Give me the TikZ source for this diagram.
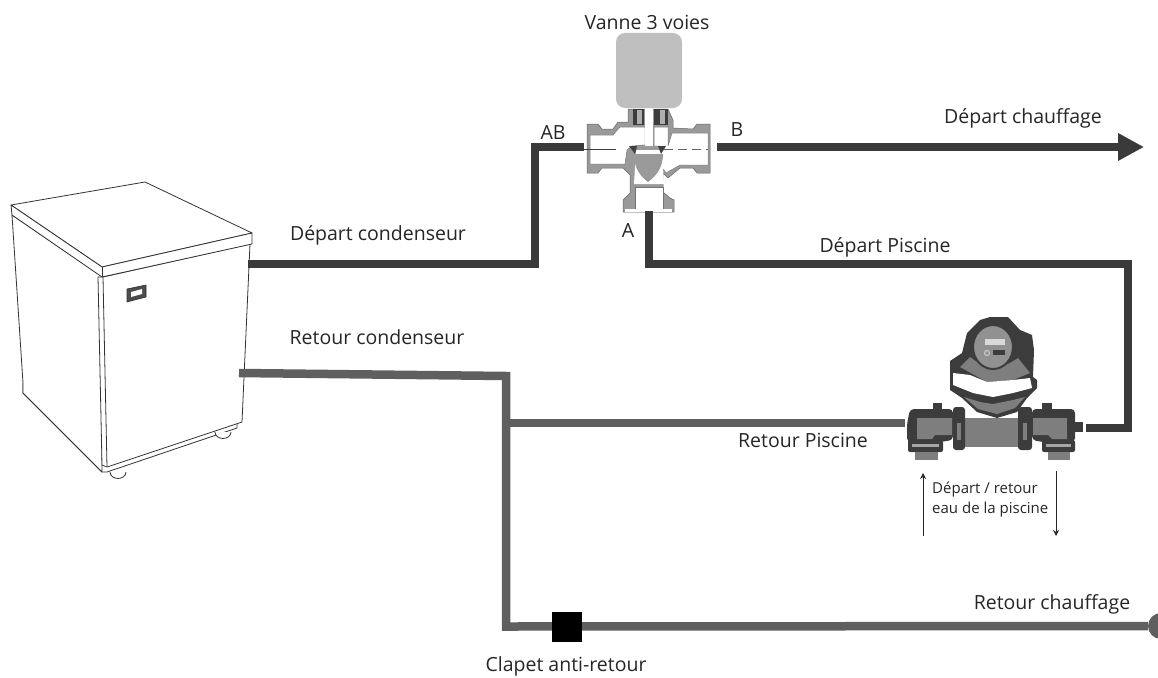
\documentclass[tikz,border=0pt]{standalone}
\usepackage{fontspec}
\setmainfont{Open Sans}
\usepackage{xcolor}
\usetikzlibrary{arrows.meta,positioning,calc}
\definecolor{PipeHot}{HTML}{3A3A3A}
\definecolor{PipeCold}{HTML}{5F5F5F}
\definecolor{Actuator}{HTML}{BFBFBF}
\definecolor{Metal}{HTML}{9A9A9A}
\definecolor{PumpDark}{HTML}{3C3C3C}
\definecolor{PumpMid}{HTML}{7E7E7E}
\begin{document}
\begin{tikzpicture}[
  x=1pt, y=-1pt,
  every node/.style={font=\fontsize{19.5}{23}\selectfont, text=black!85, inner sep=0pt},
  hot/.style={draw=PipeHot, line width=8.5pt, line join=miter},
  cold/.style={draw=PipeCold, line width=8.5pt, line join=miter},
  case/.style={draw=black!80, line width=0.8pt, fill=white, line join=round},
  bore/.style={draw=black!55, line width=0.5pt, fill=white, line join=round},
  thinarr/.style={-{Stealth[length=6pt,width=6pt]}, draw=black!85, line width=0.7pt},
]
\useasboundingbox (0,0) rectangle (1158,677);
%% heat pump cabinet
\draw[case] (23,393) -- (102,472) -- (107,472) -- (237,428) -- (237,420) -- (23,383) -- cycle;
\draw[case] (110,472) arc[start angle=180,end angle=360,x radius=8,y radius=-6.5];
\draw[case] (215,432) arc[start angle=180,end angle=360,x radius=8,y radius=-6.5];
\draw[case] (12,215) -- (23,383) -- (23,393) -- (102,472) -- (103,277) -- cycle;
\draw[case] (98,277) -- (103,277) -- (250,244) -- (242,422) -- (107,467) -- (102,465) -- cycle;
\draw[case] (103,277) -- (107,467);
\draw[case] (11,205) -- (145,182) -- (252,233) -- (102,267) -- cycle;
\draw[case] (11,205) -- (12,215) -- (102,277) -- (252,244) -- (252,233) -- (102,267) -- cycle;
\draw[case] (102,267) -- (102,277);
\draw[draw=black!80, fill=black!70, line width=0.6pt] (127,289) -- (146,285) -- (146,297) -- (127,302) -- cycle;
\draw[draw=none, fill=white] (131,292) -- (142,289) -- (142,294) -- (131,297) -- cycle;
%% 3-way valve
\draw[draw=black!60, fill=Metal, line width=0.5pt, line join=round]
  (587,124) -- (598,124) -- (602,129) -- (613,129) -- (618,122) -- (628,122) -- (628,109)
  -- (668,109) -- (673,120) -- (673,128) -- (693,129) -- (697,124) -- (710,124) -- (710,173)
  -- (697,173) -- (693,168) -- (680,168) -- (668,178) -- (663,173) -- (663,192) -- (670,198)
  -- (674,200) -- (674,212) -- (623,212) -- (623,200) -- (630,193) -- (630,175) -- (623,168)
  -- (602,168) -- (598,173) -- (587,173) -- cycle;
\draw[bore] (590,135) -- (613,135) -- (620,127) -- (645,127) -- (645,145) -- (632,146)
  -- (627,150) -- (625,164) -- (590,164) -- cycle;
\draw[bore] (654,127) -- (668,127) -- (668,146) -- (672,133) -- (708,133) -- (708,165)
  -- (680,165) -- (666,173) -- (660,165) -- (660,146) -- (654,146) -- cycle;
\fill[white] (636,150) -- (662,150) -- (664,184) -- (634,184) -- cycle;
\draw[bore] (635,187) rectangle (663,209);
\fill[white] (625,209) rectangle (672,212);
\fill[white] (645,108) rectangle (653,146);
\fill[PumpDark] (633,109) rectangle (644,125);
\fill[PumpDark] (654,109) rectangle (668,125);
\fill[Metal!80] (637,110) rectangle (642,124);
\fill[Metal!80] (660,110) rectangle (665,124);
\fill[black!75] (629,146) -- (637,146) -- (635,154) -- cycle;
\fill[black!75] (658,146) -- (666,146) -- (661,154) -- cycle;
\fill[Metal] (634,154) -- (663,154) .. controls (663,168) and (656,176) .. (648,182)
  .. controls (640,176) and (634,168) .. (634,154) -- cycle;
\draw[black!75, line width=0.5pt] (584,149.5) -- (616,149.5);
\draw[black!60, line width=0.5pt, dash pattern=on 9pt off 5pt] (664,149.5) -- (708,149.5);
\draw[draw=none, fill=Actuator, rounded corners=9pt] (616,33) rectangle (682,108);
%% pool pump
\fill[PumpDark] (950,361) -- (962,353) -- (967,333) -- (980,320) -- (990,317) -- (1008,317)
  -- (1020,330) -- (1032,335) -- (1034,350) -- (1033,377) -- (1037,380) -- (1037,388)
  -- (1030,395) -- (1027,398) -- (1017,412) -- (997,418) -- (977,412) -- (962,398)
  -- (950,390) -- cycle;
\fill[PumpMid] (960,367) -- (970,357) -- (980,364) -- (993,370) -- (1010,363) -- (1018,358)
  -- (1030,373) -- (1013,380) -- (987,382) -- cycle;
\fill[PumpMid] (964,397) -- (980,402) -- (993,404) -- (1013,400) -- (1025,397) -- (1015,408)
  -- (997,414) -- (978,409) -- cycle;
\fill[white] (953,373) -- (970,375) -- (987,382) -- (1013,380) -- (1030,378) -- (1032,388)
  -- (1013,393) -- (993,397) -- (973,393) -- (953,385) -- cycle;
\draw[draw=PumpDark, fill=PumpMid!85, line width=2pt] (993,347) ellipse[x radius=20, y radius=22];
\fill[black!15] (985,339) rectangle (1005,345);
\fill[PumpDark] (993,350) rectangle (1005,355);
\draw[draw=black!20, line width=1pt] (987,353) circle[radius=2.5];
\fill[PumpDark, rounded corners=4pt] (910,409) -- (953,409) -- (953,440) -- (940,442) -- (907,442) -- (907,424) -- cycle;
\fill[PumpDark, rounded corners=4pt] (1032,409) -- (1075,409) -- (1075,442) -- (1042,442) -- (1032,440) -- cycle;
\fill[PumpMid] (917,418) -- (952,418) -- (952,435) -- (935,435) -- (932,439) -- (917,439) -- cycle;
\fill[PumpMid] (1033,418) -- (1067,418) -- (1067,439) -- (1052,439) -- (1048,435) -- (1033,435) -- cycle;
\fill[PumpMid] (965,418) rectangle (1018,447);
\fill[PumpDark, rounded corners=3pt] (953,407) rectangle (965,450);
\fill[PumpDark, rounded corners=3pt] (1018,407) rectangle (1032,450);
\fill[PumpMid] (957,423) rectangle (961,440);
\fill[PumpMid] (1023,423) rectangle (1027,440);
\fill[PumpDark, rounded corners=2pt] (908,440) rectangle (943,452);
\fill[PumpDark, rounded corners=2pt] (1042,440) rectangle (1075,452);
\fill[PumpMid!70] (912,444) rectangle (939,447);
\fill[PumpMid!70] (1046,444) rectangle (1071,447);
\fill[PumpMid] (915,452) rectangle (938,460);
\fill[PumpMid] (1048,452) rectangle (1070,460);
\fill[PumpDark] (1067,422) rectangle (1083,432);
\fill[PumpDark] (933,403) rectangle (942,409);
\fill[PumpDark] (1042,403) rectangle (1052,409);
%% pipes
\coordinate (cond) at (248,264);
\coordinate (ab) at (584,147);
\coordinate (b) at (717,147);
\coordinate (heat) at (1144,147);
\coordinate (a) at (649,211);
\coordinate (pumpout) at (1086,428);
\coordinate (pumpin) at (905,423);
\coordinate (rcond) at (239,373);
\coordinate (join) at (506,376);
\coordinate (tee) at (506,423);
\node[circle, fill=PipeCold, minimum size=26pt] (tap) at (1161,626) {};
\draw[hot] (cond) -- (535,264) -- (535,147) -- (ab);
\draw[hot, -{Triangle[length=26pt,width=26pt]}] (b) -- (heat);
\draw[hot] (a) -- (649,264) -- (1128,264) -- (1128,428) -- (pumpout);
\draw[cold] (rcond) -- (join) -- (506,626.5) -- (tap);
\draw[cold] (tee) -- (pumpin);
\node[fill=black, minimum size=30pt] (check) at (567,626.5) {};
\draw[thinarr] (923,536) -- (923,473);
\draw[thinarr] (1056,471) -- (1056,536);
%% labels
\node (lvanne) at (647,22) {Vanne 3 voies};
\node (lab) at (553,133) {AB};
\node (lb) at (737,130) {B};
\node (la) at (628,231) {A};
\node (lheat) at (1023,118) {Départ chauffage};
\node (lcond) at (378,235) {Départ condenseur};
\node (lrcond) at (377,337) {Retour condenseur};
\node (lpool) at (885,247) {Départ Piscine};
\node (lrpool) at (803,440) {Retour Piscine};
\node[font=\fontsize{15}{20}\selectfont, align=left, anchor=west] (lwater) at (932,500) {Départ / retour\\eau de la piscine};
\node (lrheat) at (1052,604) {Retour chauffage};
\node (lcheck) at (566,666) {Clapet anti-retour};
\end{tikzpicture}
\end{document}
